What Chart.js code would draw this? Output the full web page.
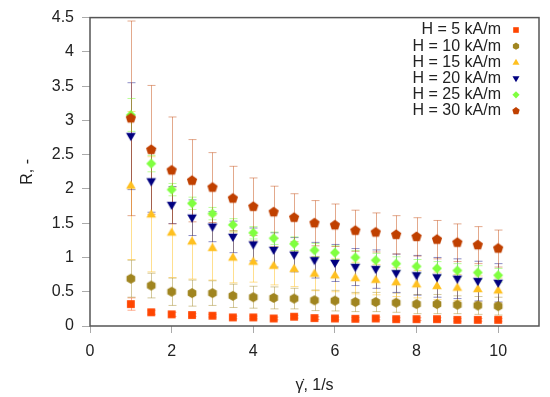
<!DOCTYPE html>
<html>
<head>
<meta charset="utf-8">
<script src="https://cdn.jsdelivr.net/npm/chart.js@4.4.1/dist/chart.umd.min.js"></script>
<style>
  html, body { margin: 0; padding: 0; background: #fff; }
</style>
</head>
<body>
<canvas id="grafico" width="550" height="397"></canvas>
<script>
// taxa de cisalhamento (eixo x)
const taxa = [1, 1.5, 2, 2.5, 3, 3.5, 4, 4.5, 5, 5.5, 6, 6.5, 7, 7.5, 8, 8.5, 9, 9.5, 10];

const rotulos = ['H = 5 kA/m', 'H = 10 kA/m', 'H = 15 kA/m', 'H = 20 kA/m', 'H = 25 kA/m', 'H = 30 kA/m'];

const r5  = [0.32, 0.20, 0.17, 0.16, 0.15, 0.125, 0.125, 0.11, 0.135, 0.115, 0.11, 0.105, 0.11, 0.10, 0.10, 0.10, 0.09, 0.09, 0.09];
const r10 = [0.69, 0.59, 0.50, 0.48, 0.48, 0.44, 0.42, 0.41, 0.40, 0.375, 0.37, 0.35, 0.35, 0.34, 0.32, 0.32, 0.31, 0.30, 0.29];
const r15 = [2.05, 1.63, 1.365, 1.235, 1.14, 1.00, 0.94, 0.88, 0.835, 0.765, 0.74, 0.70, 0.675, 0.64, 0.61, 0.585, 0.56, 0.54, 0.52];
const r20 = [2.77, 2.11, 1.765, 1.58, 1.45, 1.30, 1.19, 1.11, 1.04, 0.96, 0.92, 0.86, 0.83, 0.77, 0.74, 0.71, 0.69, 0.655, 0.63];
const r25 = [3.08, 2.37, 1.99, 1.79, 1.64, 1.476, 1.36, 1.28, 1.20, 1.105, 1.07, 1.00, 0.96, 0.91, 0.87, 0.84, 0.81, 0.78, 0.74];
const r30 = [3.03, 2.57, 2.27, 2.12, 2.02, 1.86, 1.74, 1.66, 1.58, 1.50, 1.47, 1.39, 1.365, 1.33, 1.30, 1.26, 1.215, 1.18, 1.13];

// desvios (barras de erro)
const e5  = [0.09, 0.03, 0.03, 0.02, 0.02, 0.02, 0.02, 0.02, 0.02, 0.02, 0.02, 0.02, 0.02, 0.02, 0.02, 0.02, 0.02, 0.02, 0.02];
const e10 = [0.27, 0.18, 0.20, 0.19, 0.18, 0.17, 0.16, 0.16, 0.15, 0.15, 0.15, 0.14, 0.14, 0.14, 0.14, 0.14, 0.13, 0.13, 0.13];
const e15 = [1.08, 0.84, 0.66, 0.55, 0.47, 0.37, 0.30, 0.28, 0.26, 0.25, 0.24, 0.23, 0.22, 0.21, 0.20, 0.20, 0.19, 0.19, 0.18];
const e20 = [0.78, 0.45, 0.27, 0.26, 0.22, 0.23, 0.24, 0.25, 0.25, 0.26, 0.27, 0.27, 0.28, 0.28, 0.29, 0.29, 0.29, 0.29, 0.28];
const e25 = [0.24, 0.12, 0.09, 0.09, 0.09, 0.09, 0.09, 0.09, 0.10, 0.10, 0.10, 0.10, 0.10, 0.10, 0.10, 0.10, 0.10, 0.10, 0.10];
const e30 = [1.42, 0.94, 0.78, 0.60, 0.51, 0.47, 0.42, 0.38, 0.35, 0.33, 0.31, 0.30, 0.285, 0.28, 0.28, 0.28, 0.275, 0.27, 0.27];

const ticksX = [0, 2, 4, 6, 8, 10];
const ticksY = [0, 0.5, 1, 1.5, 2, 2.5, 3, 3.5, 4, 4.5];

const valores = [r5, r10, r15, r20, r25, r30];
const erros = [e5, e10, e15, e20, e25, e30];
const cores = ['#ff4500', '#a08520', '#ffc020', '#000080', '#80ff40', '#c04000'];
const coresErro = ['rgba(255,69,0,0.45)', 'rgba(160,133,32,0.45)', 'rgba(255,192,32,0.5)',
                   'rgba(0,0,128,0.45)', 'rgba(128,255,64,0.55)', 'rgba(192,64,0,0.45)'];
const formas = ['quadrado', 'hexagono', 'triangulo', 'trianguloInv', 'losango', 'pentagono'];

const FONTE = '"Liberation Sans", Arial, Helvetica, sans-serif';

// desenha um marcador no contexto
function tracarForma(ctx, forma, x, y, r) {
    ctx.beginPath();
    if (forma === 'quadrado') {
        const s = r * 0.75;
        ctx.rect(x - s, y - s, 2 * s, 2 * s);
    } else if (forma === 'losango') {
        ctx.moveTo(x, y - r); ctx.lineTo(x + r, y); ctx.lineTo(x, y + r); ctx.lineTo(x - r, y);
    } else if (forma === 'triangulo' || forma === 'trianguloInv') {
        const d = forma === 'triangulo' ? 1 : -1;
        const yc = y + d * r * 0.1;
        ctx.moveTo(x, yc - d * r);
        ctx.lineTo(x + r * 0.866, yc + d * r * 0.5);
        ctx.lineTo(x - r * 0.866, yc + d * r * 0.5);
    } else {
        const n = forma === 'hexagono' ? 6 : 5;
        for (let k = 0; k < n; k++) {
            const a = -Math.PI / 2 + k * 2 * Math.PI / n;
            const px = x + r * Math.cos(a), py = y + r * Math.sin(a);
            if (k === 0) ctx.moveTo(px, py); else ctx.lineTo(px, py);
        }
    }
    ctx.closePath();
    ctx.fill();
}

function criarMarcador(forma, cor, r) {
    const c = document.createElement('canvas');
    c.width = 14; c.height = 14;
    const g = c.getContext('2d');
    g.fillStyle = cor;
    tracarForma(g, forma, 7, 7, r);
    return c;
}

const tamanhos = { quadrado: 5.2, hexagono: 5.0, triangulo: 5.6, trianguloInv: 5.6, losango: 5.0, pentagono: 5.4 };

const datasets = valores.map((v, i) => ({
    label: rotulos[i],
    data: taxa.map((g, j) => ({ x: g, y: v[j] })),
    pointStyle: criarMarcador(formas[i], cores[i], tamanhos[formas[i]]),
    pointRadius: 5,
    showLine: false,
    order: 5 - i
}));

// barras de erro, moldura e legenda
const barrasErro = {
    id: 'barrasErro',
    beforeDatasetsDraw(chart) {
        const { ctx, chartArea, scales: { x, y } } = chart;
        ctx.save();
        ctx.lineWidth = 1;
        valores.forEach((v, i) => {
            ctx.strokeStyle = coresErro[i];
            taxa.forEach((g, j) => {
                const px = Math.round(x.getPixelForValue(g)) + 0.5;
                const y1 = y.getPixelForValue(v[j] + erros[i][j]);
                const y2 = y.getPixelForValue(v[j] - erros[i][j]);
                ctx.beginPath();
                ctx.moveTo(px, y1); ctx.lineTo(px, y2);
                ctx.moveTo(px - 4, y1); ctx.lineTo(px + 4, y1);
                ctx.moveTo(px - 4, y2); ctx.lineTo(px + 4, y2);
                ctx.stroke();
            });
        });
        ctx.strokeStyle = '#555';
        ctx.lineWidth = 1.5;
        ctx.strokeRect(chartArea.left, chartArea.top, chartArea.right - chartArea.left, chartArea.bottom - chartArea.top);
        ctx.restore();
    },
    afterDraw(chart) {
        const { ctx } = chart;
        ctx.save();
        ctx.font = '16px ' + FONTE;
        ctx.textAlign = 'right';
        ctx.textBaseline = 'middle';
        rotulos.forEach((t, i) => {
            const yy = 30 + i * 16.2;
            ctx.fillStyle = '#222';
            ctx.fillText(t, 501, yy);
            ctx.fillStyle = cores[i];
            tracarForma(ctx, formas[i], 516, yy, tamanhos[formas[i]] * 0.72);
        });
        ctx.restore();
    }
};

new Chart(document.getElementById('grafico'), {
    type: 'scatter',
    data: { datasets: datasets },
    options: {
        responsive: false,
        animation: false,
        layout: { padding: { top: 14, right: 11, left: 0, bottom: 0 } },
        plugins: { legend: { display: false }, tooltip: { enabled: false } },
        scales: {
            x: {
                type: 'linear',
                min: 0, max: 11,
                afterBuildTicks: s => { s.ticks = ticksX.map(v => ({ value: v })); },
                afterFit: s => { s.height = 71; },
                border: { display: false },
                grid: { drawOnChartArea: false, color: '#aaa', tickLength: 7 },
                ticks: { color: '#222', font: { family: FONTE, size: 16 }, padding: 9, maxRotation: 0,
                         callback: v => String(v) },
                title: { display: true, text: '\u03b3\u0307, 1/s', color: '#222', font: { family: FONTE, size: 16 }, padding: { top: 0, bottom: 2 } }
            },
            y: {
                type: 'linear',
                min: 0, max: 4.5,
                afterBuildTicks: s => { s.ticks = ticksY.map(v => ({ value: v })); },
                afterFit: s => { s.width = 90; },
                border: { display: false },
                grid: { drawOnChartArea: false, color: '#aaa', tickLength: 8 },
                ticks: { color: '#222', font: { family: FONTE, size: 16 }, padding: 8,
                         callback: v => String(v) },
                title: { display: true, text: 'R, -', color: '#222', font: { family: FONTE, size: 16 }, padding: { top: 18, bottom: 0 } }
            }
        }
    },
    plugins: [barrasErro]
});
</script>
</body>
</html>
